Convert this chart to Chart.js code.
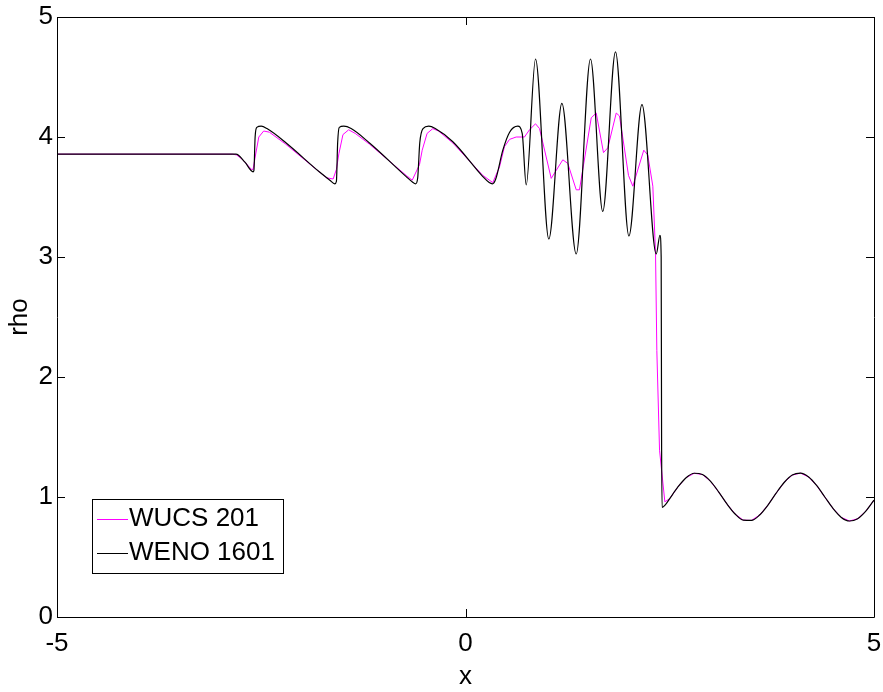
<!DOCTYPE html>
<html>
<head>
<meta charset="utf-8">
<script src="https://cdn.jsdelivr.net/npm/chart.js@4.4.1/dist/chart.umd.min.js"></script>
<style>
  html, body { margin: 0; padding: 0; background: #fff; }
  canvas { display: block; }
</style>
</head>
<body>
<canvas id="rhoChart" width="883" height="692"></canvas>
<script>
// Shu-Osher density profile

// tick values
const xTicks = [-5, 0, 5];
const yTicks = [0, 1, 2, 3, 4, 5];

// WENO 1601 (black) up to the shock
const wenoX = [
  -5, -2.81, -2.70, -2.60, -2.59, -2.575, -2.555, -2.50, -2.43, -2.195,
  -1.79, -1.66, -1.60, -1.58, -1.565, -1.545, -1.49, -1.40, -1.175,
  -0.726, -0.65, -0.61, -0.585, -0.56, -0.52, -0.45, -0.37, -0.155,
  0.212, 0.29, 0.33, 0.37, 0.457, 0.54, 0.64, 0.694, 0.743,
  0.857, 1.02, 1.18, 1.355, 1.53, 1.68, 1.836, 2.0, 2.16, 2.335,
  2.38, 2.395, 2.40, 2.406
];
const wenoRho = [
  3.857, 3.857, 3.79, 3.71, 3.72, 4.0, 4.08, 4.09, 4.07, 3.95,
  3.71, 3.64, 3.61, 3.63, 3.95, 4.08, 4.09, 4.07, 3.95,
  3.67, 3.625, 3.61, 3.66, 3.95, 4.07, 4.09, 4.07, 3.96,
  3.67, 3.62, 3.61, 3.65, 3.89, 4.04, 4.09, 4.03, 3.60,
  4.65, 3.15, 4.28, 3.025, 4.65, 3.38, 4.71, 3.175, 4.27, 3.025,
  3.18, 3.0, 1.5, 0.914
];

// WUCS 201 (magenta) up to the shock
const wucsX = [
  -5, -2.85, -2.80, -2.726, -2.62, -2.60, -2.57, -2.53, -2.47, -2.40, -2.20,
  -1.79, -1.70, -1.62, -1.58, -1.55, -1.50, -1.43, -1.35, -1.175,
  -0.726, -0.652, -0.563, -0.53, -0.47, -0.40, -0.33, -0.155,
  0.212, 0.334, 0.416, 0.477, 0.539, 0.62, 0.722, 0.783, 0.857, 0.906,
  1.049, 1.191, 1.252, 1.355, 1.395, 1.539, 1.60, 1.689, 1.742, 1.845,
  1.885, 1.995, 2.048, 2.182, 2.231, 2.293, 2.326, 2.342, 2.375, 2.44
];
const wucsRho = [
  3.857, 3.857, 3.85, 3.81, 3.73, 3.73, 3.85, 4.0, 4.05, 4.04, 3.94,
  3.71, 3.66, 3.65, 3.73, 3.86, 4.02, 4.06, 4.03, 3.94,
  3.68, 3.64, 3.77, 3.89, 4.03, 4.07, 4.05, 3.95,
  3.68, 3.62, 3.75, 3.92, 3.98, 4.00, 4.00, 4.06, 4.11, 4.07,
  3.655, 3.81, 3.78, 3.56, 3.56, 4.16, 4.20, 3.87, 3.91, 4.20,
  4.175, 3.68, 3.59, 3.89, 3.85, 3.59, 3.03, 2.22, 1.39, 0.96
];

// smooth region behind the shock (both schemes agree here)
const tailX = [
  2.45, 2.5, 2.6, 2.7, 2.8, 2.9, 3.0, 3.1, 3.2, 3.3, 3.4, 3.5, 3.6, 3.7,
  3.8, 3.9, 4.0, 4.1, 4.2, 4.3, 4.4, 4.5, 4.6, 4.7, 4.8, 4.9, 5.0
];
const tailRho = [
  0.938, 0.987, 1.084, 1.161, 1.198, 1.187, 1.130, 1.041, 0.942, 0.858, 0.807, 0.805, 0.850, 0.931,
  1.030, 1.121, 1.183, 1.199, 1.167, 1.094, 0.998, 0.903, 0.830, 0.800, 0.819, 0.882, 0.974
];

const toPoints = (xs, ys) => xs.map((x, i) => ({ x: x, y: ys[i] }));

const wenoData = toPoints(wenoX, wenoRho).concat(toPoints(tailX, tailRho));
const wucsData = toPoints(wucsX, wucsRho).concat(toPoints(tailX.slice(1), tailRho.slice(1)));

const FONT = 'Liberation Sans, Arial, sans-serif';
const FONT_SIZE = 26;
const tickLen = 8;

// box, inward ticks, legend and axis titles in the MATLAB style
const matlabFrame = {
  id: 'matlabFrame',
  afterDraw(chart) {
    const ctx = chart.ctx;
    const a = chart.chartArea;
    const xs = chart.scales.x, ys = chart.scales.y;

    ctx.save();
    ctx.strokeStyle = '#000';
    ctx.lineWidth = 1;
    ctx.beginPath();
    ctx.rect(Math.round(a.left) + 0.5, Math.round(a.top) + 0.5,
             Math.round(a.right - a.left), Math.round(a.bottom - a.top));
    ctx.stroke();

    ctx.beginPath();
    xTicks.forEach(v => {
      const px = Math.round(xs.getPixelForValue(v)) + 0.5;
      ctx.moveTo(px, a.bottom); ctx.lineTo(px, a.bottom - tickLen);
      ctx.moveTo(px, a.top); ctx.lineTo(px, a.top + tickLen);
    });
    yTicks.forEach(v => {
      const py = Math.round(ys.getPixelForValue(v)) + 0.5;
      ctx.moveTo(a.left, py); ctx.lineTo(a.left + tickLen, py);
      ctx.moveTo(a.right, py); ctx.lineTo(a.right - tickLen, py);
    });
    ctx.stroke();

    // legend
    const lx = 92, ly = 499, lw = 191, lh = 74;
    ctx.fillStyle = '#fff';
    ctx.fillRect(lx, ly, lw, lh);
    ctx.strokeRect(lx + 0.5, ly + 0.5, lw, lh);
    ctx.font = FONT_SIZE + 'px ' + FONT;
    ctx.textBaseline = 'middle';
    ctx.textAlign = 'left';
    chart.data.datasets.forEach((ds, i) => {
      const yy = ly + 20 + i * 34;
      ctx.strokeStyle = ds.borderColor;
      ctx.lineWidth = 1;
      ctx.beginPath();
      ctx.moveTo(97, yy + 0.5); ctx.lineTo(128, yy + 0.5);
      ctx.stroke();
      ctx.fillStyle = '#000';
      ctx.fillText(ds.label, 129, yy);
    });

    // axis titles
    ctx.fillStyle = '#000';
    ctx.textAlign = 'center';
    ctx.fillText('x', (a.left + a.right) / 2, 677);
    ctx.translate(20, (a.top + a.bottom) / 2);
    ctx.rotate(-Math.PI / 2);
    ctx.fillText('rho', 0, 0);
    ctx.restore();
  }
};

new Chart(document.getElementById('rhoChart'), {
  type: 'scatter',
  data: {
    datasets: [
      {
        label: 'WUCS 201',
        data: wucsData,
        showLine: true,
        borderColor: '#ff00ff',
        borderWidth: 1,
        pointRadius: 0,
        tension: 0,
        order: 1
      },
      {
        label: 'WENO 1601',
        data: wenoData,
        showLine: true,
        borderColor: '#000000',
        borderWidth: 1.2,
        pointRadius: 0,
        cubicInterpolationMode: 'monotone',
        order: 0
      }
    ]
  },
  options: {
    responsive: false,
    animation: false,
    layout: { padding: { left: 0, right: 9, top: 17, bottom: 0 } },
    plugins: {
      legend: { display: false },
      tooltip: { enabled: false }
    },
    scales: {
      x: {
        type: 'linear',
        min: -5,
        max: 5,
        afterFit: s => { s.height = 75; s.paddingLeft = 0; s.paddingRight = 0; },
        afterBuildTicks: s => { s.ticks = xTicks.map(v => ({ value: v })); },
        grid: { display: false, drawTicks: false },
        border: { display: false },
        ticks: { color: '#000', padding: 11, font: { family: FONT, size: FONT_SIZE } }
      },
      y: {
        min: 0,
        max: 5,
        afterFit: s => { s.width = 57; s.paddingTop = 0; s.paddingBottom = 0; },
        afterBuildTicks: s => { s.ticks = yTicks.map(v => ({ value: v })); },
        grid: { display: false, drawTicks: false },
        border: { display: false },
        ticks: { color: '#000', padding: 4, font: { family: FONT, size: FONT_SIZE } }
      }
    }
  },
  plugins: [matlabFrame]
});
</script>
</body>
</html>
